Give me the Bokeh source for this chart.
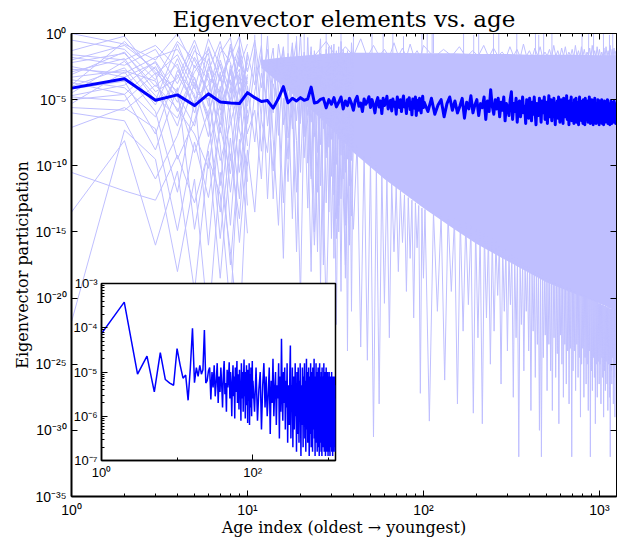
from bokeh.plotting import figure
from bokeh.models import Range1d, FixedTicker, LogAxis, CustomJSTickFormatter
from bokeh.layouts import column
from bokeh.embed import file_html
from bokeh.resources import INLINE

LIGHT = "#BFBFFF"
BLUE = "#0000FF"

# ---------------- data (values are log10 exponents) ----------------
# thick blue line (also the inset curve)
mean_ages = list(range(1, 101)) + list(range(101, 1247, 5))
mean_exp = [
    -4.13, -3.42, -5.05, -4.64, -5.45, -4.56, -5.17, -5.25, -5.30, -4.47,
    -4.85, -5.14, -5.07, -5.64, -4.90, -4.01, -5.24, -4.90, -5.10, -4.85,
    -5.05, -4.95, -4.05, -5.25, -5.20, -4.98, -4.90, -5.62,
    -5.00, -5.35, -4.85, -5.55, -5.20, -4.80, -5.70, -5.10, -5.45, -4.90, -5.30, -5.80,
    -5.05, -4.75, -5.50, -5.25, -5.90, -4.95, -5.35, -5.15, -4.78, -5.60, -5.00, -5.40,
    -6.00, -5.20, -4.85, -5.55, -5.10, -6.05, -4.90, -5.45, -5.25, -4.75, -5.70, -5.30,
    -5.05, -5.85, -4.95, -5.50, -5.20, -6.10, -4.80, -5.35, -5.60, -5.00, -5.90, -5.15,
    -4.72, -5.55, -5.30, -6.05, -5.00, -5.45, -4.85, -5.75, -5.20, -6.15, -4.95, -5.40,
    -5.65, -4.80, -6.20, -5.25, -5.05, -5.80, -4.90, -5.50, -6.00, -5.15, -4.75, -5.60,
    # ages 101..296 (step 5)
    -5.2, -5.9, -4.9, -6.1, -5.4, -5.0, -6.3, -5.3, -4.8, -5.8,
    -5.1, -6.0, -5.5, -4.9, -6.4, -5.2, -5.7, -4.7, -6.0, -5.4,
    -5.0, -6.2, -5.3, -5.6, -4.8, -6.5, -5.1, -5.9, -4.25, -5.5,
    -6.1, -5.0, -5.7, -4.9, -6.3, -5.2, -5.8, -4.8, -6.6, -5.3,
    # ages 301..1246 (step 5)
    -5.6, -6.2, -5.0, -4.4, -6.5, -5.3, -5.9, -4.9, -6.7, -5.4,
    -5.1, -6.3, -5.7, -4.8, -6.0, -5.5, -6.8, -5.0, -5.8, -6.4,
    -4.9, -5.6, -6.6, -5.2, -6.1, -4.8, -5.9, -6.9, -5.3, -5.7,
    -6.2, -4.9, -5.5, -6.7, -5.1, -6.0, -5.4, -4.8, -6.5, -5.8,
    -5.2, -6.8, -5.6, -4.7, -6.3, -5.9, -5.0, -6.6, -5.4, -6.1,
    -4.9, -5.7, -6.9, -5.3, -6.0, -5.1, -6.4, -4.8, -5.8, -6.7,
    -5.5, -5.0, -6.2, -5.7, -6.8, -4.9, -5.6, -6.3, -5.2, -6.0,
    -4.7, -6.5, -5.4, -5.9, -6.9, -5.1, -6.1, -5.6, -4.8, -6.6,
    -5.3, -6.0, -5.8, -6.8, -5.0, -6.3, -5.5, -4.9, -6.7, -5.7,
    -6.2, -5.2, -6.9, -5.6, -4.8, -6.4, -5.9, -5.1, -6.6, -6.0,
    -5.4, -6.8, -5.0, -6.1, -5.7, -6.9, -4.9, -6.3, -5.5, -6.5,
    -5.8, -5.1, -6.7, -5.4, -6.2, -4.8, -6.0, -6.8, -5.3, -5.9,
    -6.4, -5.0, -6.6, -5.6, -6.9, -5.2, -6.1, -5.7, -4.9, -6.5,
    -5.5, -6.8, -5.3, -6.2, -5.9, -6.7, -5.0, -6.0, -5.6, -6.9,
    -5.1, -6.3, -5.8, -6.6, -5.4, -6.1, -5.0, -6.8, -5.7, -6.4,
    -5.3, -6.9, -5.9, -6.2, -5.1, -6.7, -5.6, -6.0, -5.2, -6.5,
    -5.8, -6.3, -5.0, -6.8, -5.5, -6.1, -5.9, -6.6, -5.3, -6.9,
    -5.6, -6.2, -5.1, -6.5, -5.8, -6.8, -5.4, -6.0, -5.2, -6.7,
    -5.7, -6.4, -5.1, -6.6, -5.9, -6.2, -5.3, -6.8, -5.6, -6.1,
]

# individual light eigenvectors, oldest ages 1..10
early_ages = [1, 2, 3, 4, 5, 6, 7, 8, 9, 10]
early_exp = [
    [0.0, -0.8, -2.0, 0.0, -2.6, -1.2, -3.5, -1.8, -0.2, -2.9],
    [-1.3, -0.2, -3.1, -1.6, -4.2, -0.4, -2.5, -5.0, -1.9, -3.8],
    [-1.8, -2.4, -1.2, -3.8, -0.9, -5.5, -1.5, -0.3, -4.6, -2.2],
    [-2.2, -1.5, -4.0, -2.3, -6.0, -2.8, -0.6, -3.9, -2.7, -8.5],
    [-2.5, -3.3, -2.2, -5.2, -1.8, -3.6, -7.5, -2.4, -6.2, -1.4],
    [-2.9, -1.9, -5.1, -0.8, -3.9, -7.8, -2.9, -9.6, -3.3, -5.2],
    [-3.3, -2.8, -3.6, -7.0, -2.4, -4.4, -11.5, -4.2, -1.1, -6.8],
    [-3.5, -4.1, -6.3, -3.1, -5.4, -1.9, -4.8, -14.5, -5.5, -3.1],
    [-3.9, -0.6, -2.9, -4.8, -9.0, -5.9, -3.3, -6.1, -12.5, -4.5],
    [-4.2, -3.6, -7.6, -2.8, -4.6, -16.0, -6.2, -2.7, -7.3, -10.0],
    [-4.5, -2.1, -4.7, -6.4, -3.3, -6.7, -13.5, -5.6, -3.0, -7.6],
    [-4.8, -5.1, -3.0, -9.5, -6.6, -3.0, -8.4, -17.5, -8.8, -4.0],
    [-5.0, -4.6, -8.8, -4.1, -14.8, -8.5, -5.3, -3.5, -10.5, -5.8],
    [-5.3, -2.9, -5.9, -12.0, -5.1, -4.9, -9.6, -6.8, -4.1, -13.0],
    [-5.6, -5.8, -3.9, -5.7, -7.6, -10.2, -4.0, -12.0, -6.4, -3.3],
    [-6.0, -6.6, -11.0, -7.7, -3.7, -6.1, -15.5, -7.9, -15.8, -8.8],
    [-7.1, -5.6, -7.2, -14.9, -8.2, -12.4, -7.1, -10.6, -5.0, -11.2],
    [-10.5, -11.9, -12.6, -9.2, -12.8, -8.9, -18.5, -9.1, -14.0, -6.2],
    [-13.5, -8.1, -16.0, -10.4, -19.5, -9.4, -12.2, -21.0, -8.0, -15.1],
    [-21.8, -7.3, -9.5, -18.0, -11.0, -22.0, -10.5, -16.5, -23.0, -9.7],
    [-0.5, -1.2, -3.5, -0.6, -2.0, -4.5, -1.0, -2.2, -5.5, -1.6],
    [-1.6, -2.0, -0.9, -2.6, -5.5, -1.0, -3.6, -1.3, -2.5, -0.8],
    [-2.0, -0.9, -2.7, -4.4, -1.3, -2.3, -5.8, -3.0, -0.9, -4.2],
    [-2.7, -3.0, -1.8, -1.2, -3.4, -6.4, -2.0, -4.5, -2.0, -6.0],
    [-3.1, -1.4, -4.4, -3.4, -0.5, -3.3, -4.4, -1.0, -3.8, -2.6],
    [-3.7, -4.6, -2.5, -5.9, -2.9, -1.5, -6.9, -2.9, -5.8, -1.9],
    [-4.0, -2.6, -5.4, -1.9, -4.9, -3.9, -2.3, -5.3, -1.5, -4.9],
    [-4.7, -3.9, -2.1, -4.6, -7.0, -2.5, -5.0, -0.8, -4.3, -3.6],
]

# light eigenvectors, ages 10..40
mid_ages = list(range(10, 41))
mid_exp = [
    [-2.9, -0.5, -4.1, -1.2, -6.0, -0.8, -3.3, -9.5, -1.0, -4.8, 0.0, -5.9, -2.1, -11.0, -1.5, -3.8,
     -0.4, -7.2, -2.4, -13.5, -0.9, -4.3, -1.6, -8.0, -0.6, -3.2, -10.5, -1.3, -5.5, -0.7, -2.6],
    [-6.8, -2.5, -8.9, -3.4, -1.1, -7.7, -2.2, -4.6, -14.0, -2.8, -6.5, -1.9, -9.8, -3.0, -5.3, -16.5,
     -2.0, -6.1, -1.2, -8.6, -3.6, -12.2, -2.3, -5.0, -19.5, -2.9, -7.0, -1.8, -11.5, -4.0, -6.3],
    [-10.0, -4.4, -1.7, -12.5, -3.8, -5.5, -17.0, -2.6, -7.2, -1.4, -10.5, -3.5, -6.2, -2.3, -15.0, -4.5,
     -8.4, -2.7, -12.8, -4.9, -1.6, -7.5, -22.0, -3.3, -9.2, -1.4, -14.5, -5.2, -2.5, -21.0, -4.7],
    [-4.0, -8.2, -3.0, -5.2, -10.4, -2.0, -6.9, -1.5, -5.8, -12.0, -3.1, -7.8, -0.3, -6.7, -2.8, -9.0,
     -4.0, -17.5, -3.4, -5.6, -10.8, -2.1, -6.6, -13.0, -3.8, -8.8, -2.2, -24.0, -3.6, -9.6, -1.9],
    [-8.8, -13.5, -6.1, -0.2, -8.0, -14.5, -4.9, -11.2, -3.3, -8.1, -20.0, -5.0, -13.2, -4.6, -7.8, -2.4,
     -19.0, -5.3, -9.4, -3.0, -15.5, -5.8, -9.9, -2.8, -12.5, -6.0, -18.5, -3.9, -8.3, -13.8, -7.2],
    [-1.5, -3.9, -0.9, -7.0, -2.2, -3.0, -1.1, -5.4, -2.6, -0.5, -6.8, -1.8, -4.2, -10.8, -1.3, -5.7,
     -2.5, -3.9, -9.0, -1.7, -4.6, -0.8, -14.0, -2.1, -4.4, -1.2, -6.3, -2.7, -16.0, -1.6, -3.5],
    [-5.5, -1.2, -6.5, -9.0, -2.9, -5.6, -12.8, -3.6, -0.7, -6.6, -2.6, -9.4, -3.7, -1.0, -5.2, -12.0,
     -1.5, -4.3, -2.9, -7.0, -2.3, -17.0, -4.1, -1.0, -5.8, -11.0, -2.0, -6.7, -3.8, -1.3, -8.9],
    [-7.5, -5.8, -11.0, -2.2, -12.5, -4.2, -1.0, -7.9, -5.0, -16.5, -4.4, -1.4, -7.0, -18.0, -3.9, -1.9,
     -11.5, -3.1, -6.7, -1.0, -8.0, -3.5, -1.3, -15.0, -2.2, -5.1, -1.7, -9.5, -4.6, -7.4, -2.3],
]

# dense overlap of all eigenvectors (solid core of the cloud)
core_ages = [12, 16, 24, 30, 40, 60, 100, 150, 200, 300, 400, 500, 700, 1000, 1250]
core_hi = [-2.0, -1.8, -1.6, -1.5, -1.45, -1.45, -1.5, -1.5, -1.55, -1.55, -1.6, -1.6, -1.6, -1.65, -1.65]
core_lo = [-2.6, -4.0, -6.0, -7.2, -9.0, -11.0, -13.2, -14.8, -15.9, -17.2, -18.1, -18.8, -19.6, -20.4, -21.0]

# lower spikes of the cloud
low_ages = list(range(22, 101, 2)) + list(range(102, 1249, 6))
low_exp = [
    -3.0, -16, -4.0, -21, -5.0, -15.5, -6.3, -17.5, -7.3, -14.8,
    -8.2, -23.7, -8.8, -24.7, -9.4, -30.5, -10.0, -28, -10.4, -20.4,
    -10.8, -23.0, -11.3, -16.5, -11.6, -18.0, -11.9, -15.8, -12.2, -19.5,
    -12.4, -17.0, -12.6, -21.5, -12.8, -16.2, -13.0, -27.2, -13.2, -18.5,
    -13.3, -29.3, -13.5, -21, -13.7, -26.2, -13.8, -19.5, -14.0, -28.0, -14.1, -22.5,
    -14.3, -20.5, -14.5, -28.7, -14.7, -23, -14.9, -29.5, -15.1, -21.5, -15.3, -25,
    -15.5, -22.5, -15.7, -19.8, -15.9, -26.5, -16.1, -21, -16.3, -24, -16.5, -20.5,
    -16.7, -27.5, -16.9, -23, -17.0, -32, -17.2, -22, -17.3, -25.5, -17.5, -21,
    -17.6, -24, -17.7, -28.5, -17.8, -22.5, -17.9, -26, -18.0, -23.5, -18.1, -30,
    -18.2, -32, -18.3, -24.5, -18.4, -22.8, -18.5, -27, -18.6, -23.5, -18.6, -25.5,
    -18.7, -28.5, -18.8, -23, -18.8, -26, -18.9, -24.2, -18.9, -29.5, -19.0, -22.8,
    -19.0, -25, -19.1, -27.5, -19.1, -23.5, -19.2, -26.5, -19.2, -24, -19.3, -28,
    -19.3, -23.8, -19.3, -32, -19.4, -25.5, -19.4, -24, -19.5, -27, -19.5, -23.5,
    -19.6, -26, -19.6, -24.5, -19.7, -29, -19.7, -25, -19.7, -23.8, -19.8, -27.5,
    -19.8, -24.5, -19.9, -26.5, -19.9, -25, -20.0, -28.5, -20.0, -24, -20.0, -32,
    -20.1, -25.5, -20.1, -27, -20.1, -24.5, -20.2, -26, -20.2, -29.5, -20.2, -25,
    -20.3, -27.5, -20.3, -24.8, -20.4, -26.5, -20.4, -25, -20.4, -28, -20.5, -24.5,
    -20.5, -26, -20.5, -29, -20.6, -25.5, -20.6, -27, -20.6, -24.8, -20.7, -26.5,
    -20.7, -28.5, -20.7, -25, -20.7, -27.5, -20.8, -32, -20.8, -25.5, -20.8, -26.5,
    -20.8, -24.5, -20.8, -28, -20.9, -26, -20.9, -29, -20.9, -25, -20.9, -27,
]

# fuzzy upper edge of the cloud
top_ages = list(range(24, 100, 4)) + list(range(100, 1251, 15))
top_exp = [
    -1.7, -0.6, -1.8, -1.0, -1.7, -0.4, -1.8, -0.9, -1.7, -1.2, -1.8, -0.7, -1.7, -1.1, -1.8, -0.8, -1.7, -1.3, -1.8,
    -0.9, -1.8, -1.2, -1.7, -1.0, -1.8, -1.3, -1.7, -0.9, -1.8,
    -1.1, -1.7, -1.4, -1.8, -1.0, -1.7, -1.2, -1.8, -0.8, -1.7,
    -1.3, -1.8, -1.1, -1.7, -1.0, -1.8, -1.4, -1.7, -1.2, -1.8,
    -0.9, -1.7, -1.3, -1.8, -1.1, -1.7, -1.0, -1.8, -1.4, -1.7,
    -1.2, -1.8, -0.9, -1.7, -1.3, -1.8, -1.0, -1.7, -1.2, -1.8,
    -1.4, -1.7, -1.1, -1.8, -0.9, -1.7, -1.3, -1.8, -1.0, -1.7,
    -1.2, -1.8, -1.4, -1.7, -1.1, -1.8, -1.0, -1.7, -1.3, -1.8,
    -0.9, -1.7, -1.2, -1.8, -1.1, -1.7, -1.3,
]

# upward spikes reaching the top of the axes
spike_ages = [9, 11, 12, 17, 19, 21, 28, 34, 40, 51, 59, 67, 77, 98, 105, 112, 114,
              169, 193, 206, 250, 268, 339, 433, 452, 482, 537, 796, 868, 926, 1054, 1140, 1190]
spike_base = [-2.5, -2.5, -2.4, -2.2, -2.0, -1.9, -1.6, -1.5, -1.5, -1.5, -1.5, -1.5, -1.5, -1.5, -1.5, -1.5, -1.5,
              -1.6, -1.6, -1.6, -1.6, -1.6, -1.6, -1.6, -1.6, -1.6, -1.6, -1.7, -1.7, -1.7, -1.7, -1.7, -1.7]
spike_top = [0.0, -0.1, 0.0, 0.0, -0.2, 0.0, 0.0, 0.0, -0.1, 0.0, 0.0, 0.0, -0.2, 0.0, 0.0, 0.0, 0.0,
             0.0, -0.1, 0.0, 0.0, 0.0, 0.0, 0.0, -0.1, 0.0, 0.0, 0.0, 0.0, 0.0, 0.0, -0.1, 0.0]

x_major = [1, 10, 100, 1000]
x_minor = [2, 3, 4, 5, 6, 7, 8, 9, 20, 30, 40, 50, 60, 70, 80, 90,
           200, 300, 400, 500, 600, 700, 800, 900]
y_major = [1e-35, 1e-30, 1e-25, 1e-20, 1e-15, 1e-10, 1e-5, 1e0]
inset_y_major = [1e-7, 1e-6, 1e-5, 1e-4, 1e-3]
inset_y_minor = [k * 10.0 ** e for e in range(-7, -3) for k in range(2, 10)]
inset_x_major = [1, 100]
inset_x_minor = [10, 1000]


def pw(lst):
    return [10.0 ** v for v in lst]


SUP_CODE = """
const sup = {"-":"\u207b","0":"\u2070","1":"\u00b9","2":"\u00b2","3":"\u00b3","4":"\u2074",
             "5":"\u2075","6":"\u2076","7":"\u2077","8":"\u2078","9":"\u2079"};
const e = Math.round(Math.log10(tick));
return "10" + String(e).split("").map(c => sup[c]).join("");
"""

SERIF = "DejaVu Serif"
SANS = "Liberation Sans"


def style_axis(ax, labels=True, width=1, size="14px"):
    ax.axis_line_width = width
    ax.axis_line_color = "black"
    ax.major_tick_in = 6
    ax.major_tick_out = 0
    ax.minor_tick_in = 3
    ax.minor_tick_out = 0
    ax.major_tick_line_color = "black"
    ax.minor_tick_line_color = "black"
    ax.major_label_text_font = SANS
    ax.major_label_text_font_size = size
    ax.major_label_text_color = "black"
    if labels:
        ax.formatter = CustomJSTickFormatter(code=SUP_CODE)
    else:
        ax.formatter = CustomJSTickFormatter(code="return '';")
        ax.major_label_standoff = 0
        ax.major_label_text_font_size = "1px"


# ---------------- main figure ----------------
p = figure(x_axis_type="log", y_axis_type="log",
           x_range=Range1d(1, 1250), y_range=Range1d(1e-35, 1),
           frame_width=545, frame_height=463,
           min_border_left=71, min_border_right=12, min_border_top=33, min_border_bottom=44,
           output_backend="svg", toolbar_location=None,
           title="Eigenvector elements vs. age")
p.title.text_font = SERIF
p.title.text_font_size = "23px"
p.title.text_font_style = "normal"
p.title.text_color = "black"
p.title.align = "center"
p.title.standoff = 3
p.grid.visible = False
p.outline_line_color = "black"
p.outline_line_width = 1

p.varea(x=core_ages, y1=pw(core_lo), y2=pw(core_hi), color=LIGHT)
p.line(low_ages, pw(low_exp), color=LIGHT, line_width=1)
p.line(top_ages, pw(top_exp), color=LIGHT, line_width=1)
p.multi_line(xs=[early_ages for _ in early_exp], ys=[pw(s) for s in early_exp], color=LIGHT, line_width=1)
p.multi_line(xs=[mid_ages[:len(s)] for s in mid_exp], ys=[pw(s) for s in mid_exp], color=LIGHT, line_width=1)
p.segment(x0=spike_ages, y0=pw(spike_base), x1=spike_ages, y1=pw(spike_top), color=LIGHT, line_width=1)
p.line(mean_ages, pw(mean_exp), color=BLUE, line_width=3, line_join="round")

p.xaxis.ticker = FixedTicker(ticks=x_major, minor_ticks=x_minor)
p.yaxis.ticker = FixedTicker(ticks=y_major, minor_ticks=[])
style_axis(p.xaxis[0], True, 2)
style_axis(p.yaxis[0], True, 2)
p.yaxis.major_label_standoff = 5
p.xaxis.axis_label = "Age index (oldest \u2192 youngest)"
p.yaxis.axis_label = "Eigenvector participation"
for ax in (p.xaxis[0], p.yaxis[0]):
    ax.axis_label_text_font = SERIF
    ax.axis_label_text_font_size = "16px"
    ax.axis_label_text_font_style = "normal"
    ax.axis_label_text_color = "black"
p.xaxis.axis_label_standoff = -3
p.yaxis.axis_label_standoff = 0

top_ax = LogAxis(ticker=FixedTicker(ticks=x_major, minor_ticks=x_minor))
style_axis(top_ax, False, 1)
p.add_layout(top_ax, "above")
right_ax = LogAxis(ticker=FixedTicker(ticks=y_major, minor_ticks=[]))
style_axis(right_ax, False, 1)
p.add_layout(right_ax, "right")

# ---------------- inset ----------------
ins = figure(x_axis_type="log", y_axis_type="log",
             x_range=Range1d(1, 1250), y_range=Range1d(1e-7, 1e-3),
             frame_width=234, frame_height=177,
             min_border_left=70, min_border_right=6, min_border_top=8, min_border_bottom=28,
             output_backend="svg", toolbar_location=None)
ins.grid.visible = False
ins.border_fill_color = None
ins.background_fill_color = "white"
ins.outline_line_color = "black"
ins.outline_line_width = 1.5
ins.line(mean_ages, pw(mean_exp), color=BLUE, line_width=1.5)
ins.xaxis.ticker = FixedTicker(ticks=inset_x_major, minor_ticks=inset_x_minor)
ins.yaxis.ticker = FixedTicker(ticks=inset_y_major, minor_ticks=inset_y_minor)
style_axis(ins.xaxis[0], True, 1.5, "13px")
style_axis(ins.yaxis[0], True, 1.5, "13px")
ins.xaxis.major_label_standoff = 4
ins.yaxis.major_label_standoff = 4
ins.styles = {"position": "absolute", "left": "30px", "top": "275px"}

layout = column(p, ins, spacing=0)
open("out.html", "w").write(file_html(layout, INLINE))
